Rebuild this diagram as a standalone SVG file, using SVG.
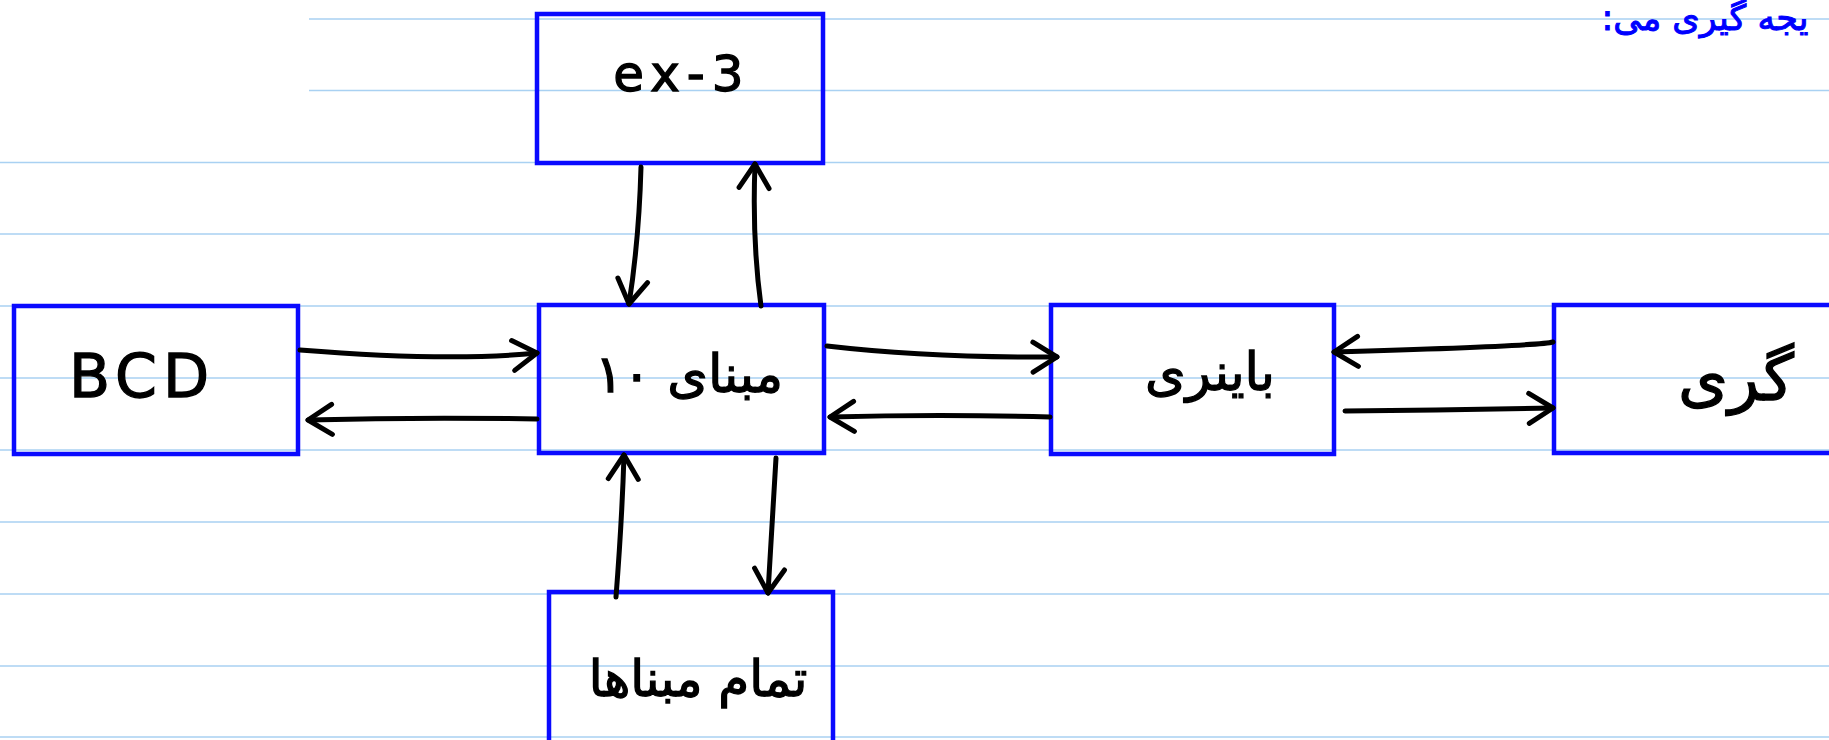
<svg xmlns="http://www.w3.org/2000/svg" width="1829" height="740" viewBox="0 0 1829 740">
<style>
.rule{stroke:#a9d1f2;stroke-width:1.6;fill:none}
.box{fill:none;stroke:#0a0aff;stroke-width:4.5}
.conn{fill:none;stroke:#000;stroke-width:5;stroke-linecap:round;stroke-linejoin:round}
.lbl{font-family:"DejaVu Sans",sans-serif;fill:#000;stroke:#000;stroke-width:1.3;text-anchor:middle}
.note{font-family:"DejaVu Sans",sans-serif;fill:#0000ff;stroke:#0000ff;stroke-width:1;text-anchor:middle}
</style>
<defs>
<marker id="arr" viewBox="0 0 32 36" refX="29" refY="18" markerWidth="32" markerHeight="36" markerUnits="userSpaceOnUse" orient="auto">
<path d="M5,3 L29,18 L5,33" fill="none" stroke="#000" stroke-width="5" stroke-linecap="round" stroke-linejoin="round"/>
</marker>
</defs>
<rect width="1829" height="740" fill="#fff"/>
<g id="rules">
<line class="rule" x1="309" y1="19" x2="1829" y2="19"/>
<line class="rule" x1="309" y1="90.5" x2="1829" y2="90.5"/>
<line class="rule" x1="0" y1="162.5" x2="1829" y2="162.5"/>
<line class="rule" x1="0" y1="234" x2="1829" y2="234"/>
<line class="rule" x1="0" y1="306" x2="1829" y2="306"/>
<line class="rule" x1="0" y1="378" x2="1829" y2="378"/>
<line class="rule" x1="0" y1="450" x2="1829" y2="450"/>
<line class="rule" x1="0" y1="522" x2="1829" y2="522"/>
<line class="rule" x1="0" y1="594" x2="1829" y2="594"/>
<line class="rule" x1="0" y1="666" x2="1829" y2="666"/>
<line class="rule" x1="0" y1="737" x2="1829" y2="737"/>
</g>
<text class="note" x="1705" y="30" font-size="35" direction="rtl">یجه گیری می:</text>
<g id="node-ex3">
<rect class="box" x="537" y="14" width="286" height="149"/>
<text class="lbl" x="682" y="91" font-size="50" letter-spacing="7">ex-3</text>
</g>
<g id="node-bcd">
<rect class="box" x="14" y="306" width="284" height="148"/>
<text class="lbl" x="142" y="397" font-size="60" letter-spacing="6">BCD</text>
</g>
<g id="node-base10">
<rect class="box" x="539" y="305" width="285" height="148"/>
<text class="lbl" x="689" y="392" font-size="52">مبنای ۱۰</text>
</g>
<g id="node-binary">
<rect class="box" x="1051" y="305" width="283" height="149"/>
<text class="lbl" x="1210" y="390" font-size="52">باینری</text>
</g>
<g id="node-gray">
<rect class="box" x="1554" y="305" width="300" height="148"/>
<text class="lbl" x="1736" y="400" font-size="64">گری</text>
</g>
<g id="node-allbases">
<rect class="box" x="549" y="592" width="284" height="160"/>
<text class="lbl" x="698" y="696" font-size="50">تمام مبناها</text>
</g>
<g id="connectors">
<path class="conn" marker-end="url(#arr)" d="M641,167 Q639,240 629,304"/>
<path class="conn" marker-end="url(#arr)" d="M761,306 Q752,240 755,164"/>
<path class="conn" marker-end="url(#arr)" d="M300,350 Q450,362 537,353"/>
<path class="conn" marker-end="url(#arr)" d="M537,419 Q420,417 308,420"/>
<path class="conn" marker-end="url(#arr)" d="M827,346 Q930,358 1057,357"/>
<path class="conn" marker-end="url(#arr)" d="M1050,417 Q940,414 830,417"/>
<path class="conn" marker-end="url(#arr)" d="M1553,342 Q1540,346 1334,352"/>
<path class="conn" marker-end="url(#arr)" d="M1345,411 Q1450,410 1553,408"/>
<path class="conn" marker-end="url(#arr)" d="M616,597 Q622,520 624,455"/>
<path class="conn" marker-end="url(#arr)" d="M776,458 Q772,530 768,593"/>
</g>
</svg>
